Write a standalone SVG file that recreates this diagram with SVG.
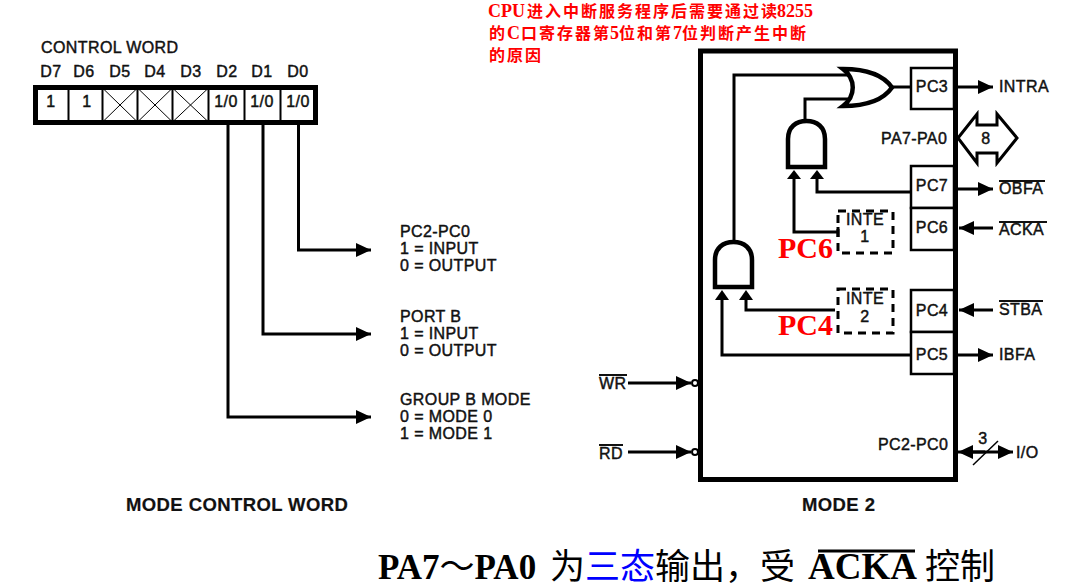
<svg xmlns="http://www.w3.org/2000/svg" width="1076" height="585" viewBox="0 0 1076 585">
<style>
.t{font-family:"Liberation Sans",Arial,sans-serif;font-size:16px;letter-spacing:.4px;fill:#111;stroke:#111;stroke-width:.45px}
.m{text-anchor:middle}
.h{font-size:18.500px;font-weight:bold;letter-spacing:.4px;stroke-width:.2px}
.ol{stroke:#111;stroke-width:2;fill:none}
.w{stroke:#000;stroke-width:3;fill:none}
.g{stroke:#000;stroke-width:4.500;fill:#fff;stroke-linejoin:miter}
.box{stroke:#000;stroke-width:2.500;fill:#fff}
.d{stroke:#000;stroke-width:3;fill:none;stroke-dasharray:8 6}
.x{stroke:#000;stroke-width:1;fill:none}
.red{font-family:"Liberation Serif","Noto Sans CJK SC",serif;font-weight:bold;fill:#f00}
.b{font-family:"Liberation Serif","Noto Sans CJK SC",serif;font-size:35px;fill:#000}
</style>
<defs>
<marker id="a" markerUnits="userSpaceOnUse" markerWidth="16" markerHeight="14" refX="15" refY="7" orient="auto"><path d="M0 0L15 7L0 14z" fill="#000"/></marker>
</defs>

<g id="note" class="red" font-size="16">
<text x="488" y="17"><tspan font-size="18">CPU</tspan><tspan x="527" letter-spacing="2">进入中断服务程序后需要通过读</tspan><tspan x="777" font-size="18">8255</tspan></text>
<text x="489" y="39">的<tspan x="507" font-size="18">C</tspan><tspan x="521" letter-spacing="2">口寄存器第</tspan><tspan x="610" font-size="18">5</tspan><tspan x="619" letter-spacing="2">位和第</tspan><tspan x="673" font-size="18">7</tspan><tspan x="682" letter-spacing="2">位判断产生中断</tspan></text>
<text x="489" y="61" letter-spacing="2">的原因</text>
</g>

<g id="control-word">
<text class="t" x="41" y="53">CONTROL WORD</text>
<g class="t m">
<text x="51" y="77">D7</text><text x="84" y="77">D6</text><text x="120" y="77">D5</text><text x="155" y="77">D4</text><text x="191" y="77">D3</text><text x="227" y="77">D2</text><text x="262" y="77">D1</text><text x="298" y="77">D0</text>
</g>
<rect x="35.500" y="87.500" width="280" height="35" fill="#fff" stroke="#000" stroke-width="5"/>
<path class="x" style="stroke-width:2" d="M68.500 88V122M102.500 88V122M137.500 88V122M172.500 88V122M208.500 88V122M244.500 88V122M280.500 88V122"/>
<path class="x" d="M102.500 122L137.500 88M102.500 88L137.500 122M137.500 122L172.500 88M137.500 88L172.500 122M172.500 122L208.500 88M172.500 88L208.500 122"/>
<g class="t m">
<text x="51" y="107">1</text><text x="87" y="107">1</text><text x="226" y="107">1/0</text><text x="262" y="107">1/0</text><text x="298" y="107">1/0</text>
</g>
</g>

<g id="connectors">
<path class="w" marker-end="url(#a)" d="M298.500 125V250H371"/>
<path class="w" marker-end="url(#a)" d="M263 125V334H371"/>
<path class="w" marker-end="url(#a)" d="M228 125V417H371"/>
<path class="w" d="M734 241V75H850"/>
<path class="w" d="M805 120V99H850"/>
<path class="w" d="M892 87H910"/>
<path class="w" d="M817 175V192H910"/>
<path class="w" d="M794 175V232H837"/>
<path d="M794 170L787 179H801z" fill="#000"/>
<path d="M817 170L810 179H824z" fill="#000"/>
<path class="w" d="M746 295V310H835"/>
<path class="w" d="M722 295V355H910"/>
<path d="M722 290L715 300H729z" fill="#000"/>
<path d="M746 290L739 300H753z" fill="#000"/>
<path class="w" marker-end="url(#a)" d="M956 87H993"/>
<path class="w" marker-end="url(#a)" d="M956 189H993"/>
<path class="w" marker-end="url(#a)" d="M993 228H959"/>
<path class="w" marker-end="url(#a)" d="M993 310H959"/>
<path class="w" marker-end="url(#a)" d="M956 355H993"/>
<path class="w" marker-end="url(#a)" d="M972 452H1013"/>
<path class="w" marker-end="url(#a)" d="M985 452H958"/>
<path d="M973 465L998 441" stroke="#000" stroke-width="1.500"/>
<path class="w" marker-end="url(#a)" d="M628 383H691"/>
<path class="w" marker-end="url(#a)" d="M628 452H691"/>
</g>

<g id="chip">
<rect x="700.500" y="51" width="255" height="428.500" fill="none" stroke="#000" stroke-width="5"/>
<circle cx="695" cy="383" r="3" fill="#fff" stroke="#000" stroke-width="2"/>
<circle cx="695" cy="452" r="3" fill="#fff" stroke="#000" stroke-width="2"/>
</g>

<g id="pc3"><rect class="box" x="911" y="68" width="43" height="41"/><text class="t m" x="932" y="92">PC3</text></g>
<g id="pc7"><rect class="box" x="911" y="166" width="43" height="42"/><text class="t m" x="932" y="191">PC7</text></g>
<g id="pc6"><rect class="box" x="911" y="208" width="43" height="42"/><text class="t m" x="932" y="233">PC6</text></g>
<g id="pc4"><rect class="box" x="911" y="290" width="43" height="42"/><text class="t m" x="932" y="316">PC4</text></g>
<g id="pc5"><rect class="box" x="911" y="332" width="43" height="42"/><text class="t m" x="932" y="360">PC5</text></g>

<g id="or-gate"><path class="g" d="M843 69C868 69 884 76 892 87.500C884 99 868 106 843 106C856 96 856 79 843 69z"/></g>
<g id="and-gate-1"><path class="g" d="M788 167V139C788 127 796 121 806.500 121C817 121 825 127 825 139V167z"/></g>
<g id="and-gate-2"><path class="g" d="M715 287V260C715 248 723 242 733.500 242C744 242 752 248 752 260V287z"/></g>

<g id="inte-1"><rect class="d" x="838" y="211" width="55" height="42"/><path d="M838 227V237" stroke="#000" stroke-width="3"/><text class="t m" x="865" y="225">INTE</text><text class="t m" x="865" y="242">1</text></g>
<g id="inte-2"><rect class="d" x="838" y="289" width="55" height="44"/><text class="t m" x="865" y="304">INTE</text><text class="t m" x="865" y="322">2</text></g>

<g id="pa-bus"><path d="M958 138L977 114V125H997V114L1017 138L997 163V153H977V163z" fill="#fff" stroke="#000" stroke-width="3"/><text class="t m" x="986" y="144">8</text></g>

<g id="labels">
<text class="t" x="881" y="144">PA7-PA0</text>
<text class="t" x="878" y="450">PC2-PC0</text>
<text class="t m" x="983" y="444">3</text>
<text class="t" x="1016" y="458">I/O</text>
<text class="t" x="999" y="92">INTRA</text>
<text class="t" x="999" y="194">OBFA</text><path class="ol" d="M999 181H1045"/>
<text class="t" x="999" y="235">ACKA</text><path class="ol" d="M999 222H1047"/>
<text class="t" x="999" y="315">STBA</text><path class="ol" d="M999 301H1043"/>
<text class="t" x="999" y="360">IBFA</text>
<text class="t" x="599" y="389">WR</text><path class="ol" d="M599 375H627"/>
<text class="t" x="599" y="459">RD</text><path class="ol" d="M599 445H623"/>
<text class="red" x="778" y="258" font-size="30">PC6</text>
<text class="red" x="778" y="335" font-size="30">PC4</text>
<text class="t" x="400" y="237">PC2-PC0</text><text class="t" x="400" y="254">1 = INPUT</text><text class="t" x="400" y="271">0 = OUTPUT</text>
<text class="t" x="400" y="322">PORT B</text><text class="t" x="400" y="339">1 = INPUT</text><text class="t" x="400" y="356">0 = OUTPUT</text>
<text class="t" x="400" y="405">GROUP B MODE</text><text class="t" x="400" y="422">0 = MODE 0</text><text class="t" x="400" y="439">1 = MODE 1</text>
<text class="t h" x="126" y="511">MODE CONTROL WORD</text>
<text class="t h" x="802" y="511">MODE 2</text>
</g>

<g id="caption" class="b">
<text x="378" y="579" font-weight="bold" xml:space="preserve">PA7<tspan font-weight="normal">～</tspan>PA0</text>
<text x="550" y="579">为<tspan fill="#00f">三态</tspan>输出，受</text>
<text x="808" y="579" font-weight="bold" style="font-size:37px">ACKA</text>
<path d="M818 551H915" stroke="#000" stroke-width="3"/>
<text x="925" y="579">控制</text>
</g>
</svg>
